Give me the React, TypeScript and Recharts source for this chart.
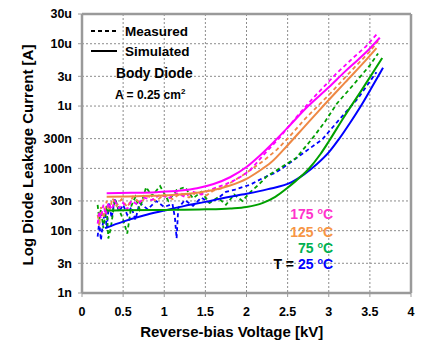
import React from 'react';
import { LineChart, Line, XAxis, YAxis, CartesianGrid, ReferenceLine } from 'recharts';

const W = 427;
const H = 343;
const FONT = '"Liberation Sans", Arial, sans-serif';

const xTicks = [0, 0.5, 1, 1.5, 2, 2.5, 3, 3.5, 4];
const xTickLabels = ['0', '0.5', '1', '1.5', '2', '2.5', '3', '3.5', '4'];
const yTicks = [1e-9, 3e-9, 1e-8, 3e-8, 1e-7, 3e-7, 1e-6, 3e-6, 1e-5, 3e-5];
const yTickLabels = ['1n', '3n', '10n', '30n', '100n', '300n', '1u', '3u', '10u', '30u'];

// Simulated [kV, A]
const sim175: [number, number][] = [
  [0.3, 4.0e-8], [0.6, 4.05e-8], [0.9, 4.15e-8], [1.2, 4.4e-8], [1.4, 4.8e-8], [1.6, 5.6e-8],
  [1.8, 7.2e-8], [2.0, 1.05e-7], [2.15, 1.55e-7], [2.3, 2.4e-7], [2.5, 4.5e-7], [2.75, 1.0e-6],
  [3.0, 2.0e-6], [3.2, 3.6e-6], [3.36, 5.6e-6], [3.5, 8.4e-6], [3.62, 1.25e-5],
];
const sim125: [number, number][] = [
  [0.3, 3.5e-8], [0.75, 3.6e-8], [1.1, 3.75e-8], [1.35, 4.0e-8], [1.6, 4.5e-8], [1.8, 5.3e-8],
  [2.0, 6.8e-8], [2.15, 9.0e-8], [2.3, 1.25e-7], [2.5, 2.35e-7], [2.7, 4.6e-7], [2.89, 8.7e-7],
  [3.2, 2.4e-6], [3.46, 5.6e-6], [3.58, 8.5e-6],
];
const sim75: [number, number][] = [
  [0.3, 2.1e-8], [0.5, 2.12e-8], [1.0, 2.15e-8], [1.5, 2.2e-8], [1.8, 2.28e-8], [2.0, 2.4e-8],
  [2.2, 2.8e-8], [2.35, 3.5e-8], [2.5, 4.9e-8], [2.6, 6.3e-8], [2.75, 9.6e-8], [2.9, 1.7e-7],
  [3.0, 2.7e-7], [3.18, 6.5e-7], [3.4, 1.8e-6], [3.65, 5.9e-6],
];
const sim25: [number, number][] = [
  [0.28, 1.1e-8], [0.5, 1.4e-8], [0.75, 1.75e-8], [1.0, 2.1e-8], [1.25, 2.5e-8], [1.5, 2.9e-8],
  [1.75, 3.4e-8], [2.0, 3.9e-8], [2.25, 4.6e-8], [2.55, 6.0e-8], [2.7, 8.0e-8], [2.85, 1.15e-7],
  [3.0, 1.8e-7], [3.12, 2.9e-7], [3.26, 5.4e-7], [3.4, 1.05e-6], [3.55, 2.3e-6], [3.66, 4.1e-6],
];

// Measured [kV, A]
const meas175: [number, number][] = [
  [0.19, 1.3e-8], [0.21, 2e-8], [0.23, 1.6e-8], [0.26, 2.6e-8], [0.29, 1.8e-8], [0.32, 2.8e-8],
  [0.36, 2.2e-8], [0.4, 3e-8], [0.45, 2.3e-8], [0.5, 2.8e-8], [0.55, 2.2e-8], [0.6, 3e-8],
  [0.68, 2.6e-8], [0.75, 3.4e-8], [0.85, 3.1e-8], [0.95, 3.8e-8], [1.05, 3.3e-8], [1.15, 4e-8],
  [1.25, 3.5e-8], [1.35, 4.2e-8], [1.45, 3.8e-8], [1.55, 4.5e-8], [1.65, 5e-8], [1.75, 5.6e-8],
  [1.85, 6.4e-8], [1.95, 7.6e-8], [2.05, 9.5e-8], [2.2, 1.6e-7], [2.41, 3.2e-7], [2.6, 6.5e-7],
  [2.8, 1.3e-6], [3.1, 3.4e-6], [3.3, 6e-6], [3.45, 9e-6], [3.58, 1.4e-5],
];
const meas125: [number, number][] = [
  [0.19, 1.8e-8], [0.21, 1.2e-8], [0.23, 2.4e-8], [0.26, 1.6e-8], [0.3, 3e-8], [0.33, 2e-8],
  [0.37, 3.3e-8], [0.42, 2.5e-8], [0.48, 3.2e-8], [0.55, 2.4e-8], [0.62, 3.5e-8], [0.7, 2.8e-8],
  [0.8, 3.6e-8], [0.9, 3e-8], [1.0, 3.8e-8], [1.1, 3.2e-8], [1.2, 4e-8], [1.3, 3.4e-8],
  [1.4, 4.2e-8], [1.5, 3.6e-8], [1.6, 4.4e-8], [1.7, 4.8e-8], [1.8, 5.8e-8], [1.9, 7e-8],
  [2.0, 8.5e-8], [2.1, 1.05e-7], [2.2, 1.3e-7], [2.37, 2e-7], [2.5, 3e-7], [2.7, 6e-7],
  [3.02, 1.6e-6], [3.3, 4e-6], [3.5, 7.5e-6], [3.6, 1.1e-5],
];
const meas75: [number, number][] = [
  [0.19, 2.6e-8], [0.21, 1.5e-8], [0.23, 2.2e-8], [0.26, 1.1e-8], [0.3, 2.5e-8], [0.32, 7.5e-9],
  [0.35, 1.1e-8], [0.4, 3.2e-8], [0.45, 2.2e-8], [0.5, 1.5e-8], [0.55, 9e-9], [0.6, 2.5e-8],
  [0.65, 3.5e-8], [0.7, 2.2e-8], [0.78, 5e-8], [0.85, 3.6e-8], [0.95, 5.2e-8], [1.05, 3e-8],
  [1.15, 4.5e-8], [1.25, 5e-8], [1.35, 3.3e-8], [1.45, 4.2e-8], [1.55, 2.8e-8], [1.65, 3.4e-8],
  [1.75, 2.6e-8], [1.85, 3.8e-8], [1.95, 3e-8], [2.05, 4.2e-8], [2.15, 5.5e-8], [2.25, 7.5e-8],
  [2.35, 9e-8], [2.45, 1.1e-7], [2.6, 1.45e-7], [2.79, 2.9e-7], [2.95, 5.5e-7], [3.1, 1.1e-6],
  [3.3, 2.2e-6], [3.5, 4.5e-6], [3.6, 7e-6],
];
const meas25: [number, number][] = [
  [0.19, 8e-9], [0.21, 1.4e-8], [0.23, 7e-9], [0.25, 1.2e-8], [0.28, 2.2e-8], [0.3, 1.1e-8],
  [0.33, 2.8e-8], [0.36, 1.6e-8], [0.4, 3.3e-8], [0.45, 2e-8], [0.5, 2.6e-8], [0.55, 1.8e-8],
  [0.6, 2.4e-8], [0.65, 1.5e-8], [0.7, 2.8e-8], [0.8, 2.2e-8], [0.9, 3e-8], [1.0, 2.4e-8],
  [1.1, 2.7e-8], [1.13, 1.6e-8], [1.15, 7.5e-9], [1.17, 2.3e-8], [1.25, 3.1e-8], [1.35, 2.5e-8],
  [1.45, 3.4e-8], [1.55, 2.8e-8], [1.65, 3.3e-8], [1.75, 4.2e-8], [1.85, 4.5e-8], [1.95, 5e-8],
  [2.05, 5.5e-8], [2.2, 7e-8], [2.35, 8.5e-8], [2.5, 1.15e-7], [2.7, 1.8e-7], [2.92, 2.9e-7],
  [3.1, 5.5e-7], [3.36, 1.35e-6], [3.58, 3.5e-6],
];

const C175 = '#ff00ff';
const C125 = '#ee8844';
const C75 = '#00a000';
const C25 = '#0000ff';

const toPts = (arr: [number, number][]) => arr.map(([x, y]) => ({ x, y }));

const series = [
  { key: 'm25', data: meas25, color: C25, dashed: true },
  { key: 'm75', data: meas75, color: C75, dashed: true },
  { key: 'm125', data: meas125, color: C125, dashed: true },
  { key: 'm175', data: meas175, color: C175, dashed: true },
  { key: 's25', data: sim25, color: C25, dashed: false },
  { key: 's75', data: sim75, color: C75, dashed: false },
  { key: 's125', data: sim125, color: C125, dashed: false },
  { key: 's175', data: sim175, color: C175, dashed: false },
];

const tickStyle = { fill: '#000', fontSize: 12.5, fontWeight: 'bold', fontFamily: FONT };
const AXIS = '#9a9a9a';

export default function App() {
  return (
    <div style={{ position: 'absolute', left: 0, top: 0, width: W, height: H, background: '#fff' }}>
      <LineChart width={W} height={H} margin={{ top: 14, right: 16, bottom: 0, left: 0 }}>
        <CartesianGrid stroke="#8c8c8c" strokeDasharray="2 2" strokeWidth={1} />
        <XAxis
          type="number"
          dataKey="x"
          domain={[0, 4]}
          ticks={xTicks}
          tickFormatter={(v: number) => xTickLabels[xTicks.indexOf(v)] ?? String(v)}
          height={50}
          tick={tickStyle}
          tickSize={4}
          tickMargin={10}
          axisLine={{ stroke: AXIS, strokeWidth: 2.5 }}
          tickLine={{ stroke: AXIS }}
          allowDataOverflow
        />
        <YAxis
          type="number"
          dataKey="y"
          scale="log"
          domain={[1e-9, 3e-5]}
          ticks={yTicks}
          tickFormatter={(v: number) => {
            const i = yTicks.findIndex((t) => Math.abs(t - v) / t < 1e-6);
            return i >= 0 ? yTickLabels[i] : '';
          }}
          width={82}
          tick={tickStyle}
          tickSize={4}
          tickMargin={6}
          axisLine={{ stroke: AXIS, strokeWidth: 2.5 }}
          tickLine={{ stroke: AXIS }}
          allowDataOverflow
          interval={0}
        />
        <ReferenceLine x={4} stroke={AXIS} strokeWidth={2.5} ifOverflow="extendDomain" />
        <ReferenceLine y={3e-5} stroke={AXIS} strokeWidth={2.5} ifOverflow="extendDomain" />
        {series.map((s) => (
          <Line
            key={s.key}
            data={toPts(s.data)}
            dataKey="y"
            type={s.dashed ? 'linear' : 'monotone'}
            stroke={s.color}
            strokeWidth={s.dashed ? 1.8 : 2}
            strokeDasharray={s.dashed ? '4 3' : undefined}
            dot={false}
            activeDot={false}
            isAnimationActive={false}
          />
        ))}
        {/* legend */}
        <line x1={91} y1={31} x2={116} y2={31} stroke="#000" strokeWidth={2} strokeDasharray="4 3" />
        <line x1={91} y1={51} x2={117} y2={51} stroke="#000" strokeWidth={2} />
        <text x={125} y={36} fontFamily={FONT} fontWeight="bold" fontSize={13.5} fill="#000">Measured</text>
        <text x={125} y={56} fontFamily={FONT} fontWeight="bold" fontSize={13.5} fill="#000">Simulated</text>
        <text x={116} y={77.5} fontFamily={FONT} fontWeight="bold" fontSize={13.8} fill="#000">Body Diode</text>
        <text x={115} y={99} fontFamily={FONT} fontWeight="bold" fontSize={12} fill="#000">
          A = 0.25 cm<tspan fontSize={8} dy={-5}>2</tspan>
        </text>
        {/* temperature labels */}
        <text x={333} y={218.5} textAnchor="end" fontFamily={FONT} fontWeight="bold" fontSize={14} fill="#ff33cc">
          175 <tspan fontSize={9} dy={-5}>o</tspan><tspan dy={5}>C</tspan>
        </text>
        <text x={333} y={236.7} textAnchor="end" fontFamily={FONT} fontWeight="bold" fontSize={14} fill="#f79646">
          125 <tspan fontSize={9} dy={-5}>o</tspan><tspan dy={5}>C</tspan>
        </text>
        <text x={333} y={253.3} textAnchor="end" fontFamily={FONT} fontWeight="bold" fontSize={14} fill="#00b050">
          75 <tspan fontSize={9} dy={-5}>o</tspan><tspan dy={5}>C</tspan>
        </text>
        <text x={333} y={269.3} textAnchor="end" fontFamily={FONT} fontWeight="bold" fontSize={14} fill="#0000ff">
          <tspan fill="#000">T = </tspan>25 <tspan fontSize={9} dy={-5}>o</tspan><tspan dy={5}>C</tspan>
        </text>
        {/* axis titles */}
        <text x={231.7} y={337} textAnchor="middle" fontFamily={FONT} fontWeight="bold" fontSize={15} fill="#000">
          Reverse-bias Voltage [kV]
        </text>
        <text
          x={0}
          y={0}
          transform="translate(32.5,155) rotate(-90)"
          textAnchor="middle"
          fontFamily={FONT}
          fontWeight="bold"
          fontSize={15}
          fill="#000"
        >
          Log Diode Leakage Current [A]
        </text>
      </LineChart>
    </div>
  );
}
